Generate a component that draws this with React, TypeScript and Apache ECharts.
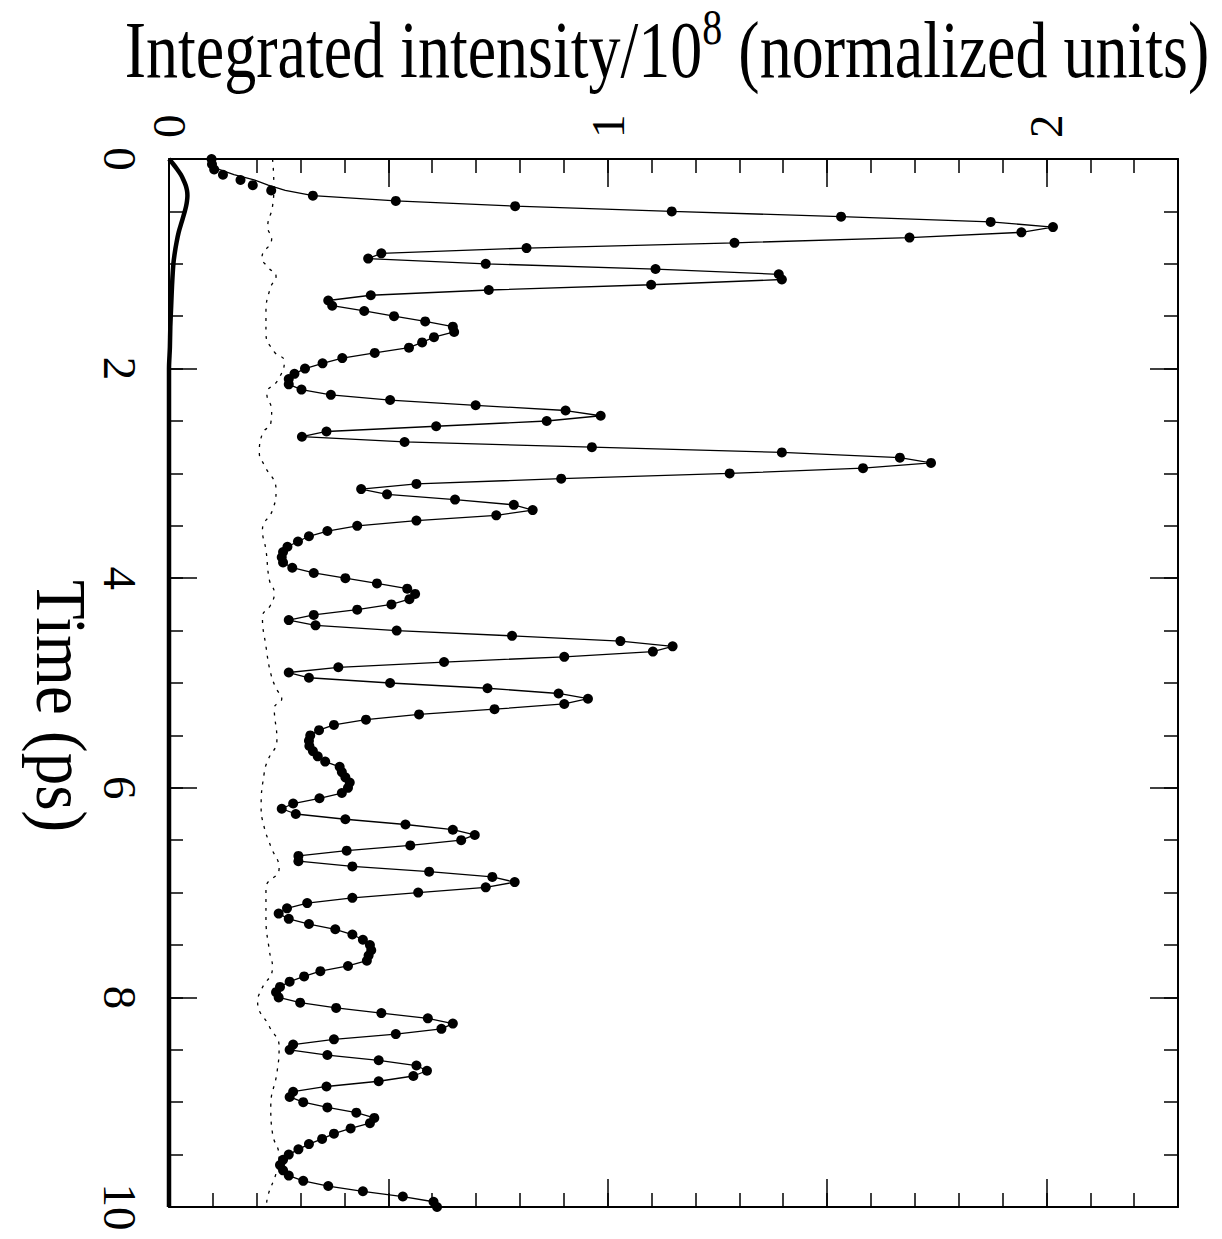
import React, { useEffect, useRef } from "react";
import * as echarts from "echarts";

// Time stamps of the measured points (ps)
const times: number[] = [
  0, 0.05, 0.1, 0.15, 0.2, 0.25, 0.3, 0.35, 0.4, 0.45,
  0.5, 0.55, 0.6, 0.65, 0.7, 0.75, 0.8, 0.85, 0.9, 0.95,
  1, 1.05, 1.1, 1.15, 1.2, 1.25, 1.3, 1.35, 1.4, 1.45,
  1.5, 1.55, 1.6, 1.65, 1.7, 1.75, 1.8, 1.85, 1.9, 1.95,
  2, 2.05, 2.1, 2.15, 2.2, 2.25, 2.3, 2.35, 2.4, 2.45,
  2.5, 2.55, 2.6, 2.65, 2.7, 2.75, 2.8, 2.85, 2.9, 2.95,
  3, 3.05, 3.1, 3.15, 3.2, 3.25, 3.3, 3.35, 3.4, 3.45,
  3.5, 3.55, 3.6, 3.65, 3.7, 3.75, 3.8, 3.85, 3.9, 3.95,
  4, 4.05, 4.1, 4.15, 4.2, 4.25, 4.3, 4.35, 4.4, 4.45,
  4.5, 4.55, 4.6, 4.65, 4.7, 4.75, 4.8, 4.85, 4.9, 4.95,
  5, 5.05, 5.1, 5.15, 5.2, 5.25, 5.3, 5.35, 5.4, 5.45,
  5.5, 5.55, 5.6, 5.65, 5.7, 5.75, 5.8, 5.85, 5.9, 5.95,
  6, 6.05, 6.1, 6.15, 6.2, 6.25, 6.3, 6.35, 6.4, 6.45,
  6.5, 6.55, 6.6, 6.65, 6.7, 6.75, 6.8, 6.85, 6.9, 6.95,
  7, 7.05, 7.1, 7.15, 7.2, 7.25, 7.3, 7.35, 7.4, 7.45,
  7.5, 7.55, 7.6, 7.65, 7.7, 7.75, 7.8, 7.85, 7.9, 7.95,
  8, 8.05, 8.1, 8.15, 8.2, 8.25, 8.3, 8.35, 8.4, 8.45,
  8.5, 8.55, 8.6, 8.65, 8.7, 8.75, 8.8, 8.85, 8.9, 8.95,
  9, 9.05, 9.1, 9.15, 9.2, 9.25, 9.3, 9.35, 9.4, 9.45,
  9.5, 9.55, 9.6, 9.65, 9.7, 9.75, 9.8, 9.85, 9.9, 9.95,
  10,
];

// Integrated intensity of the measured points (1e8 normalized units)
const intensity: number[] = [
  0.097, 0.098, 0.103, 0.123, 0.163, 0.191, 0.233, 0.328, 0.517, 0.789,
  1.146, 1.532, 1.873, 2.015, 1.943, 1.688, 1.289, 0.815, 0.484, 0.454,
  0.722, 1.109, 1.39, 1.397, 1.099, 0.729, 0.46, 0.363, 0.372, 0.445,
  0.513, 0.584, 0.647, 0.65, 0.604, 0.577, 0.547, 0.469, 0.395, 0.35,
  0.31, 0.286, 0.273, 0.273, 0.302, 0.369, 0.504, 0.699, 0.904, 0.984,
  0.861, 0.609, 0.359, 0.303, 0.537, 0.964, 1.397, 1.666, 1.737, 1.582,
  1.278, 0.894, 0.564, 0.438, 0.497, 0.652, 0.786, 0.829, 0.746, 0.564,
  0.429, 0.361, 0.319, 0.294, 0.27, 0.26, 0.257, 0.26, 0.281, 0.33,
  0.402, 0.474, 0.543, 0.561, 0.548, 0.507, 0.429, 0.33, 0.273, 0.334,
  0.519, 0.782, 1.029, 1.148, 1.103, 0.901, 0.627, 0.386, 0.273, 0.319,
  0.504, 0.726, 0.888, 0.955, 0.901, 0.742, 0.57, 0.449, 0.376, 0.342,
  0.322, 0.319, 0.32, 0.328, 0.339, 0.356, 0.389, 0.394, 0.402, 0.412,
  0.408, 0.394, 0.343, 0.283, 0.257, 0.289, 0.402, 0.539, 0.647, 0.697,
  0.666, 0.55, 0.405, 0.295, 0.295, 0.418, 0.593, 0.737, 0.788, 0.722,
  0.568, 0.418, 0.315, 0.269, 0.25, 0.273, 0.319, 0.379, 0.418, 0.442,
  0.458, 0.461, 0.455, 0.451, 0.408, 0.345, 0.308, 0.275, 0.253, 0.244,
  0.25, 0.299, 0.381, 0.484, 0.59, 0.647, 0.621, 0.517, 0.376, 0.283,
  0.275, 0.361, 0.478, 0.564, 0.588, 0.557, 0.478, 0.359, 0.283, 0.275,
  0.306, 0.361, 0.427, 0.468, 0.458, 0.414, 0.376, 0.349, 0.319, 0.295,
  0.273, 0.26, 0.253, 0.26, 0.273, 0.306, 0.363, 0.442, 0.533, 0.603,
  0.611,
];

// The thin connecting line departs from the dots over the first points
const lineStart: number[] = [0.097, 0.1, 0.114, 0.148, 0.194, 0.226, 0.265, 0.328];

// Dotted reference curve
const dottedTimes: number[] = [
  0, 0.25, 0.45, 0.65, 0.76, 0.94, 1.03, 1.12, 1.23, 1.47, 1.66, 1.84, 1.93,
  2.11, 2.24, 2.4, 2.52, 2.62, 2.81, 2.92, 3.16, 3.35, 3.54, 3.73, 4.02, 4.14,
  4.26, 4.37, 4.65, 4.91, 5.05, 5.15, 5.24, 5.54, 5.74, 5.86, 6.18, 6.36, 6.56,
  6.77, 6.96, 7.23, 7.56, 7.71, 7.93, 8.04, 8.28, 8.47, 8.72, 9.04, 9.3, 9.52,
  9.68, 9.9, 10,
];
const dottedValues: number[] = [
  0.236, 0.239, 0.236, 0.225, 0.234, 0.212, 0.225, 0.244, 0.231, 0.221, 0.221, 0.24, 0.263,
  0.248, 0.223, 0.234, 0.232, 0.213, 0.206, 0.217, 0.244, 0.236, 0.213, 0.221, 0.229, 0.24,
  0.231, 0.213, 0.221, 0.232, 0.244, 0.257, 0.24, 0.246, 0.225, 0.217, 0.21, 0.216, 0.232,
  0.251, 0.221, 0.221, 0.229, 0.236, 0.21, 0.202, 0.229, 0.251, 0.246, 0.232, 0.236, 0.251,
  0.244, 0.225, 0.222,
];

// Thick curve near zero
const thickTimes: number[] = [0, 0.05, 0.1, 0.15, 0.2, 0.25, 0.3, 0.35, 0.4, 0.45, 0.5, 0.6, 0.7, 0.8, 0.9, 1.0, 1.2, 1.4, 1.6, 1.8, 2.0, 4, 6, 8, 10];
const thickValues: number[] = [0, 0.01, 0.019, 0.027, 0.033, 0.038, 0.041, 0.042, 0.041, 0.039, 0.036, 0.029, 0.022, 0.017, 0.013, 0.01, 0.007, 0.005, 0.003, 0.002, 0, 0, 0, 0, 0];

const TITLE_A = "Integrated intensity/10";
const TITLE_SUP = "8";
const TITLE_B = " (normalized units)";
const TIME_LABEL = "Time (ps)";

const X_MIN = 0;
const X_MAX = 2.3;
const Y_MIN = 0;
const Y_MAX = 10;

const FONT = "'Liberation Serif', 'DejaVu Serif', 'Times New Roman', serif";

export default function App() {
  const ref = useRef<HTMLDivElement>(null);

  useEffect(() => {
    if (!ref.current) return;
    const chart = echarts.init(ref.current, undefined, { renderer: "svg" });

    const black = "#000";
    const intLabel = (v: number) =>
      Math.abs(v - Math.round(v)) < 1e-6 ? String(Math.round(v)) : "";

    const xAxisBase = (position: "top" | "bottom", interval: number, len: number, labels: boolean, line: boolean) => ({
      type: "value",
      position,
      min: X_MIN,
      max: X_MAX,
      interval,
      axisLine: { show: line, onZero: false, lineStyle: { color: black, width: 2 } },
      axisTick: { show: true, inside: true, length: len, lineStyle: { color: black, width: 1.5 } },
      axisLabel: labels
        ? { show: true, rotate: -90, margin: 21, color: black, fontSize: 47, fontFamily: FONT, formatter: intLabel }
        : { show: false },
      splitLine: { show: false },
    });

    const yAxisBase = (position: "left" | "right", interval: number, len: number, labels: boolean, line: boolean) => ({
      type: "value",
      position,
      inverse: true,
      min: Y_MIN,
      max: Y_MAX,
      interval,
      axisLine: { show: line, onZero: false, lineStyle: { color: black, width: 2 } },
      axisTick: { show: true, inside: true, length: len, lineStyle: { color: black, width: 1.5 } },
      axisLabel: labels
        ? { show: true, rotate: -90, margin: 26, color: black, fontSize: 47, fontFamily: FONT, formatter: intLabel }
        : { show: false },
      splitLine: { show: false },
    });

    const dots = times.map((t, i) => [intensity[i], t]);
    const lineData = times.map((t, i) => [i < lineStart.length ? lineStart[i] : intensity[i], t]);
    const dotted = dottedTimes.map((t, i) => [dottedValues[i], t]);
    const thick = thickTimes.map((t, i) => [thickValues[i], t]);

    chart.setOption({
      animation: false,
      backgroundColor: "#fff",
      grid: { left: 169, top: 159, width: 1009, height: 1048, containLabel: false },
      xAxis: [
        xAxisBase("top", 0.1, 14, false, true),
        xAxisBase("top", 0.5, 28, true, false),
        xAxisBase("bottom", 0.1, 14, false, true),
        xAxisBase("bottom", 0.5, 28, false, false),
      ],
      yAxis: [
        yAxisBase("left", 0.5, 14, false, true),
        yAxisBase("left", 2, 28, true, false),
        yAxisBase("right", 0.5, 14, false, true),
        yAxisBase("right", 2, 28, false, false),
      ],
      graphic: [
        {
          type: "text",
          x: 667,
          y: 46,
          scaleY: 1.27,
          style: {
            text: `{a|${TITLE_A}}{s|${TITLE_SUP}}{a|${TITLE_B}}`,
            align: "center",
            verticalAlign: "middle",
            fill: black,
            rich: {
              a: { fontSize: 64, fontFamily: FONT, fill: black, lineHeight: 70, verticalAlign: "bottom" },
              s: { fontSize: 40, fontFamily: FONT, fill: black, lineHeight: 70, verticalAlign: "top" },
            },
          },
        },
        {
          type: "text",
          x: 61,
          y: 706,
          rotation: -Math.PI / 2,
          scaleY: 1.12,
          style: {
            text: TIME_LABEL,
            align: "center",
            verticalAlign: "middle",
            fontSize: 65,
            fontFamily: FONT,
            fill: black,
          },
        },
      ],
      series: [
        {
          type: "line",
          data: thick,
          xAxisIndex: 0,
          yAxisIndex: 0,
          smooth: 0.3,
          showSymbol: false,
          clip: false,
          lineStyle: { color: black, width: 4.5 },
          z: 3,
        },
        {
          type: "line",
          data: dotted,
          xAxisIndex: 0,
          yAxisIndex: 0,
          smooth: true,
          showSymbol: false,
          lineStyle: { color: black, width: 1.3, type: [3, 6] },
          z: 2,
        },
        {
          type: "line",
          data: lineData,
          xAxisIndex: 0,
          yAxisIndex: 0,
          showSymbol: false,
          lineStyle: { color: black, width: 1.3 },
          z: 3,
        },
        {
          type: "scatter",
          data: dots,
          xAxisIndex: 0,
          yAxisIndex: 0,
          symbol: "circle",
          symbolSize: 10,
          itemStyle: { color: black, opacity: 1 },
          z: 4,
        },
      ],
    });

    return () => chart.dispose();
  }, []);

  return (
    <div
      ref={ref}
      style={{ position: "absolute", left: 0, top: 0, width: 1222, height: 1239 }}
    />
  );
}
